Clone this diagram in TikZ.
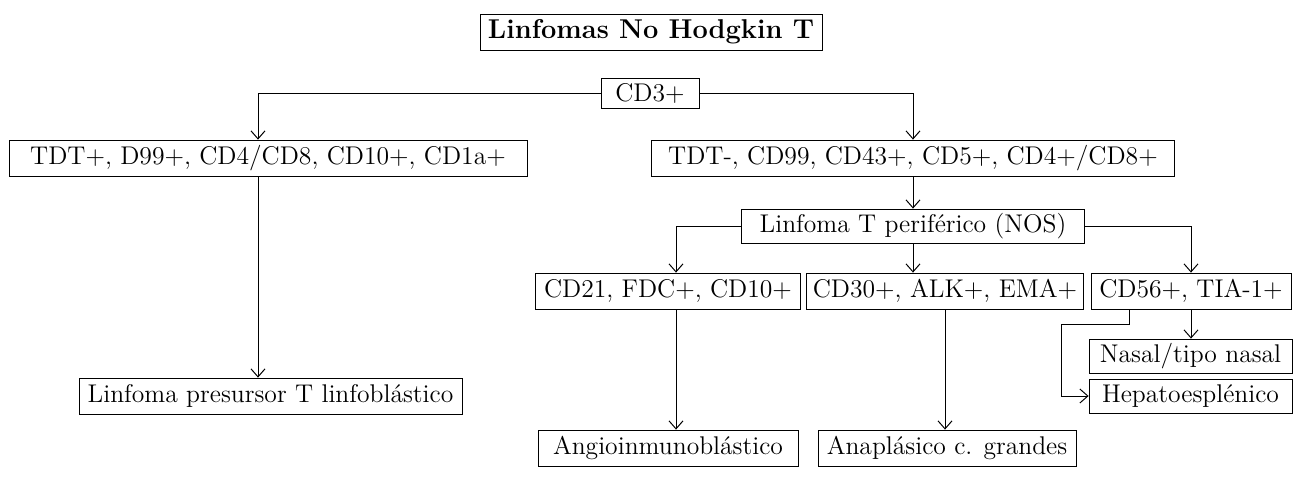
\documentclass[tikz,border=0pt]{standalone}
\usetikzlibrary{arrows.meta}

\tikzset{
  caja/.style={draw, rectangle, inner xsep=3pt, inner ysep=1pt, minimum height=18pt,
    font=\fontsize{12.8}{14}\selectfont},
  titulo/.style={caja, font=\fontsize{13.6}{15}\selectfont\bfseries},
  flecha/.style={-{Straight Barb[length=4pt,width=7pt]}, line width=0.5pt}
}

\begin{document}
\begin{tikzpicture}[x=0.5pt, y=-0.5pt]
  \useasboundingbox (0,0) rectangle (1302,479);

  % cajas
  \node[titulo, minimum width=171pt] (titulo) at (651,32) {Linfomas No Hodgkin T};
  \node[caja, minimum width=49pt, minimum height=15pt] (cd3) at (650,93) {CD3+};
  \node[caja, minimum width=259pt] (tdtp) at (268,158) {TDT+, D99+, CD4/CD8, CD10+, CD1a+};
  \node[caja, minimum width=261.5pt] (tdtm) at (913,158) {TDT-, CD99, CD43+, CD5+, CD4+/CD8+};
  \node[caja, minimum width=171.5pt, minimum height=17pt] (nos) at (913,226) {Linfoma T periférico (NOS)};
  \node[caja, minimum width=132.5pt] (cd21) at (668,291) {CD21, FDC+, CD10+};
  \node[caja, minimum width=132.5pt] (cd30) at (945,291) {CD30+, ALK+, EMA+};
  \node[caja, minimum width=100pt] (cd56) at (1191,291) {CD56+, TIA-1+};
  \node[caja, minimum width=101.5pt, minimum height=17pt] (nasal) at (1190.5,356) {Nasal/tipo nasal};
  \node[caja, minimum width=101.5pt, minimum height=17pt] (hepato) at (1190.5,396) {Hepatoesplénico};
  \node[caja, minimum width=191.5pt] (presursor) at (270.5,396) {Linfoma presursor T linfoblástico};
  \node[caja, minimum width=130pt] (angio) at (668,448) {Angioinmunoblástico};
  \node[caja, minimum width=129pt] (anapl) at (947,448) {Anaplásico c. grandes};

  % ejes de las flechas
  \coordinate (ejeizq) at (258,0);
  \coordinate (ejecd21) at (676,0);
  \coordinate (ejehep) at (1129,0);
  \coordinate (codo) at (1061,324);

  % conectores
  \draw[flecha] (cd3.west) -| (ejeizq |- tdtp.north);
  \draw[flecha] (cd3.east) -| (tdtm.north);
  \draw[flecha] (ejeizq |- tdtp.south) -- (ejeizq |- presursor.north);
  \draw[flecha] (tdtm.south) -- (nos.north);
  \draw[flecha] (nos.west) -| (ejecd21 |- cd21.north);
  \draw[flecha] (nos.south) -- (nos.south |- cd30.north);
  \draw[flecha] (nos.east) -| (cd56.north);
  \draw[flecha] (ejecd21 |- cd21.south) -- (ejecd21 |- angio.north);
  \draw[flecha] (cd30.south) -- (cd30.south |- anapl.north);
  \draw[flecha] (cd56.south) -- (cd56.south |- nasal.north);
  \draw[flecha] (ejehep |- cd56.south) |- (codo) |- (hepato.west);
\end{tikzpicture}
\end{document}
